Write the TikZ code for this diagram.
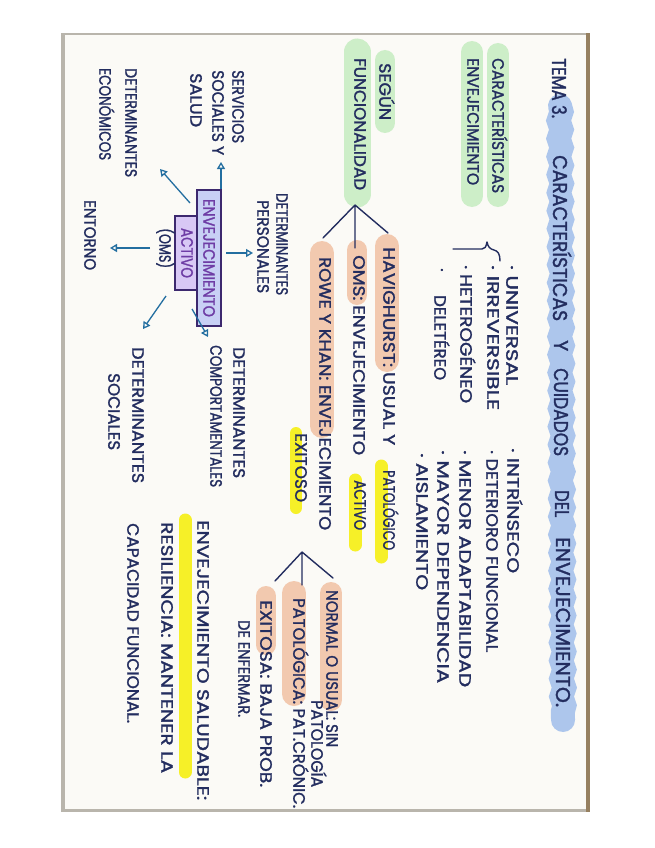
\documentclass[tikz,border=0pt]{standalone}
\usepackage{fontspec}
\usepackage{graphicx}
\usetikzlibrary{arrows.meta,decorations.pathmorphing}
\newfontfamily\hand{Poppins}[FakeBold=1.6]
\definecolor{ink}{RGB}{35,45,95}
\definecolor{arrowc}{RGB}{35,110,160}
\definecolor{boxline}{RGB}{60,40,110}
\definecolor{boxtext}{RGB}{110,60,165}
\definecolor{boxfillA}{RGB}{200,208,245}
\definecolor{boxfillB}{RGB}{216,200,245}
\definecolor{hlblue}{RGB}{160,190,235}
\definecolor{hlgreen}{RGB}{205,238,200}
\definecolor{hlorange}{RGB}{242,196,168}
\definecolor{hlyellow}{RGB}{246,240,40}
\definecolor{paper}{RGB}{251,250,246}
\definecolor{edgegrey}{RGB}{185,181,172}
\definecolor{edgebrown}{RGB}{150,128,96}
\newcommand\fw[2]{\resizebox{#1pt}{\height}{#2}}
\begin{document}
\begin{tikzpicture}[x=1pt,y=-1pt,
  txt/.style={rotate=-90,anchor=west,inner sep=0pt,text=ink,
    font={\hand\fontsize{16.5}{17}\selectfont},text height=11.5pt,text depth=0pt},
  ttl/.style={txt,font={\hand\fontsize{20}{21}\selectfont},text height=14pt},
  hl/.style={line cap=round,line width=#1},
  hlg/.style={hl=#1,draw=hlgreen},
  hlo/.style={hl=#1,draw=hlorange,opacity=.9},
  hly/.style={hl=#1,draw=hlyellow},
  arr/.style={draw=arrowc,line width=1.3pt,-{Triangle[open,length=7pt,width=8pt]}},
  penline/.style={draw=ink,line width=1.4pt,line cap=round,line join=round},
  tagbox/.style={rotate=-90,draw=boxline,line width=1.3pt,inner sep=0pt,text=boxtext,
    font={\hand\fontsize{16.5}{17}\selectfont},text height=11.5pt,text depth=0pt}]
\useasboundingbox (0,0) rectangle (655,848);
% background and paper
\fill[white] (0,0) rectangle (655,848);
\fill[edgegrey] (61,33) rectangle (590,812);
\fill[paper] (65,35) rectangle (587,809);
\fill[edgebrown] (586,33) rectangle (590,812);

% highlights
\draw[hl=24pt,draw=hlblue,opacity=.85,decorate,decoration={snake,amplitude=1.5pt,segment length=18pt}] (560,106) -- (563,720);
\draw[hlg=22pt] (498,54) -- (498,196);
\draw[hlg=22pt] (472,52) -- (472,196);
\draw[hlg=20pt] (385,60) -- (385,123);
\draw[hlg=27pt] (357,52) -- (357,194);
\draw[hlo=24pt] (387,246) -- (387,360);
\draw[hlo=20pt] (357,250) -- (357,295);
\draw[hlo=24pt] (322,253) -- (322,426);
\draw[hly=13pt] (381,466) -- (381,557);
\draw[hly=13pt] (355,480) -- (355,545);
\draw[hly=12pt] (296,433) -- (296,508);
\draw[hlo=22pt] (331,593) -- (331,700);
\draw[hlo=24pt] (294,593) -- (294,694);
\draw[hlo=20pt] (266,596) -- (266,645);
\draw[hly=13pt] (185,520) -- (185,772);

% title
\node[ttl] (t1) at (559,58) {\fw{60}{TEMA 3.}};
\node[ttl] (t2) at (560,155) {\fw{166}{CARACTERÍSTICAS}};
\node[ttl] (t3) at (561,340) {\fw{11}{Y}};
\node[ttl] (t4) at (561,368) {\fw{88}{CUIDADOS}};
\node[ttl] (t5) at (562,490) {\fw{27}{DEL}};
\node[ttl] (t6) at (563,537) {\fw{170}{ENVEJECIMIENTO.}};

% headings
\node[txt] (car) at (498,58) {\fw{135}{CARACTERÍSTICAS}};
\node[txt] (env) at (473,58) {\fw{127}{ENVEJECIMIENTO}};

% brace
\draw[penline] (453,249) -- (482,249) .. controls (485,249) and (486,247) .. (487,242)
  .. controls (488,247) and (490,249) .. (494,250) .. controls (498,251) and (500,254) .. (500,261);

% bullets A
\node[txt] (b1) at (512,265) {\fw{120}{· UNIVERSAL}};
\node[txt] (b2) at (493,265) {\fw{145}{· IRREVERSIBLE}};
\node[txt] (b3) at (466,265) {\fw{138}{· HETEROGÉNEO}};
\node[txt] (b4d) at (442,268) {·};
\node[txt] (b4) at (440,295) {\fw{85}{DELETÉREO}};
% bullets B
\node[txt] (c1) at (513,448) {\fw{125}{· INTRÍNSECO}};
\node[txt] (c2) at (492,450) {\fw{202}{· DETERIORO FUNCIONAL}};
\node[txt] (c3) at (465,450) {\fw{237}{· MENOR ADAPTABILIDAD}};
\node[txt] (c4) at (443,450) {\fw{233}{· MAYOR DEPENDENCIA}};
\node[txt] (c5) at (422,453) {\fw{137}{· AISLAMIENTO}};

% funcionalidad tree
\node[txt] (seg) at (385,63) {\fw{57}{SEGÚN}};
\node[txt] (fun) at (360,58) {\fw{132}{FUNCIONALIDAD}};
\coordinate (ap1) at (355,205);
\coordinate (l1) at (323,238);
\coordinate (m1) at (355,248);
\coordinate (r1) at (388,233);
\draw[penline] (l1) -- (ap1) -- (r1) (ap1) -- (m1);
\node[txt] (hav) at (389,247) {\fw{198}{HAVIGHURST: USUAL Y}};
\node[txt] (pat) at (389,470) {\fw{80}{PATOLÓGICO}};
\node[txt] (oms) at (359,255) {\fw{200}{OMS: ENVEJECIMIENTO}};
\node[txt] (act) at (360,480) {\fw{50}{ACTIVO}};
\node[txt] (row) at (325,257) {\fw{273}{ROWE Y KHAN: ENVEJECIMIENTO}};
\node[txt] (exo) at (301,433) {\fw{69}{EXITOSO}};
% second tree
\coordinate (ap2) at (302,552);
\coordinate (l2) at (275,581);
\coordinate (m2) at (302,585);
\coordinate (r2) at (333,578);
\draw[penline] (l2) -- (ap2) -- (r2) (ap2) -- (m2);
\node[txt] (nor) at (332,590) {\fw{157}{NORMAL O USUAL: SIN}};
\node[txt] (ptl) at (317,700) {\fw{87}{PATOLOGÍA}};
\node[txt] (pta) at (299,598) {\fw{210}{PATOLÓGICA: PAT.CRÓNIC.}};
\node[txt] (exa) at (266,600) {\fw{187}{EXITOSA: BAJA PROB.}};
\node[txt] (den) at (244,620) {\fw{97}{DE ENFERMAR.}};

% central concept
\node[tagbox,fill=boxfillB,minimum width=74pt,minimum height=24pt] (act2) at (187,253) {\fw{50}{ACTIVO}};
\node[tagbox,fill=boxfillA,minimum width=136pt,minimum height=24pt] (envact) at (209,258) {\fw{118}{ENVEJECIMIENTO}};
\node[txt] (omsb) at (165,228) {\fw{40}{(OMS)}};

\node[txt] (dp1) at (282,193) {\fw{102}{DETERMINANTES}};
\node[txt] (dp2) at (263,200) {\fw{93}{PERSONALES}};
\node[txt] (sv1) at (238,70) {\fw{73}{SERVICIOS}};
\node[txt] (sv2) at (218,70) {\fw{85}{SOCIALES Y}};
\node[txt] (sv3) at (196,73) {\fw{54}{SALUD}};
\node[txt] (de1) at (131,68) {\fw{109}{DETERMINANTES}};
\node[txt] (de2) at (105,68) {\fw{92}{ECONÓMICOS}};
\node[txt] (ent) at (90,200) {\fw{70}{ENTORNO}};
\node[txt] (dc1) at (239,347) {\fw{131}{DETERMINANTES}};
\node[txt] (dc2) at (216,345) {\fw{142}{COMPORTAMENTALES}};
\node[txt] (ds1) at (138,347) {\fw{136}{DETERMINANTES}};
\node[txt] (ds2) at (114,373) {\fw{77}{SOCIALES}};

\node[txt] (sal) at (203,520) {\fw{280}{ENVEJECIMIENTO SALUDABLE:}};
\node[txt] (res) at (167,522) {\fw{251}{RESILIENCIA: MANTENER LA}};
\node[txt] (cap) at (133,523) {\fw{200}{CAPACIDAD FUNCIONAL.}};

% arrows
\coordinate (a1s) at (221,189); \coordinate (a1e) at (221,162);
\coordinate (a2s) at (190,203); \coordinate (a2e) at (160,169);
\coordinate (a3s) at (226,253); \coordinate (a3e) at (253,253);
\coordinate (a4s) at (150,248); \coordinate (a4e) at (110,248);
\coordinate (a5s) at (166,296); \coordinate (a5e) at (143,329);
\coordinate (a6s) at (192,309); \coordinate (a6e) at (208,337);
\draw[arr] (a1s) -- (a1e);
\draw[arr] (a2s) -- (a2e);
\draw[arr] (a3s) -- (a3e);
\draw[arr] (a4s) -- (a4e);
\draw[arr] (a5s) -- (a5e);
\draw[arr] (a6s) -- (a6e);
\end{tikzpicture}
\end{document}
